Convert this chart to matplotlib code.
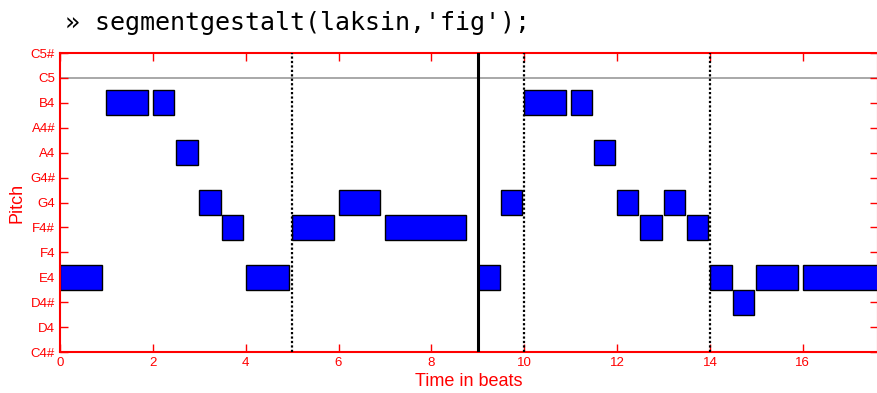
import matplotlib.pyplot as plt
from matplotlib.patches import Rectangle

# note list: onset (beats), duration (beats), MIDI pitch
onsets = [0, 1, 2, 2.5, 3, 3.5, 4, 5, 6, 7, 9, 9.5,
          10, 11, 11.5, 12, 12.5, 13, 13.5, 14, 14.5, 15, 16]
durations = [0.9, 0.9, 0.45, 0.47, 0.46, 0.45, 0.93, 0.9, 0.9, 1.75, 0.47, 0.46,
             0.9, 0.45, 0.46, 0.46, 0.47, 0.46, 0.45, 0.47, 0.45, 0.9, 1.8]
pitches = [64, 71, 71, 69, 67, 66, 64, 66, 67, 66, 64, 67,
           71, 71, 69, 67, 66, 67, 66, 64, 63, 64, 64]

pitch_ticks = list(range(61, 74))
pitch_names = ['C4#', 'D4', 'D4#', 'E4', 'F4', 'F4#', 'G4', 'G4#',
               'A4', 'A4#', 'B4', 'C5', 'C5#']
segment_bounds = [5, 10, 14]
phrase_bounds = [9]
ref_pitch = 72

red = '#ff0000'
fig = plt.figure(figsize=(8.78, 3.93), dpi=100)
ax = fig.add_axes([0.0683, 0.1043, 0.9317, 0.7608])

ax.axhline(ref_pitch, color='#999999', lw=1.2, zorder=1)
for b in segment_bounds:
    ax.axvline(b, color='black', lw=1.6, ls=(0, (1, 1)), zorder=3)
for b in phrase_bounds:
    ax.axvline(b, color='black', lw=2.2, zorder=3)

for t, d, p in zip(onsets, durations, pitches):
    ax.add_patch(Rectangle((t, p - 0.5), d, 1, facecolor='#0000ff',
                           edgecolor='black', lw=1.0, zorder=2))

ax.set_xlim(0, 17.62)
ax.set_ylim(61, 73)
ax.set_xticks(range(0, 18, 2))
ax.set_yticks(pitch_ticks)
ax.set_yticklabels(pitch_names)

for s in ax.spines.values():
    s.set_color(red)
    s.set_linewidth(1.5)
ax.tick_params(direction='in', length=6, width=1, colors=red,
               top=True, right=True, labelsize=9.5, labelcolor=red)
for lab in ax.get_xticklabels() + ax.get_yticklabels():
    lab.set_family('Liberation Sans')

ax.set_xlabel('Time in beats', color=red, fontsize=13,
              family='Liberation Sans', labelpad=3)
ax.set_ylabel('Pitch', color=red, fontsize=13,
              family='Liberation Sans', labelpad=3)

fig.text(0.074, 0.942, "\u00bb segmentgestalt(laksin,'fig');",
         fontsize=18, family='DejaVu Sans Mono', color='black',
         ha='left', va='center')

fig.savefig('out.png', dpi=100)
